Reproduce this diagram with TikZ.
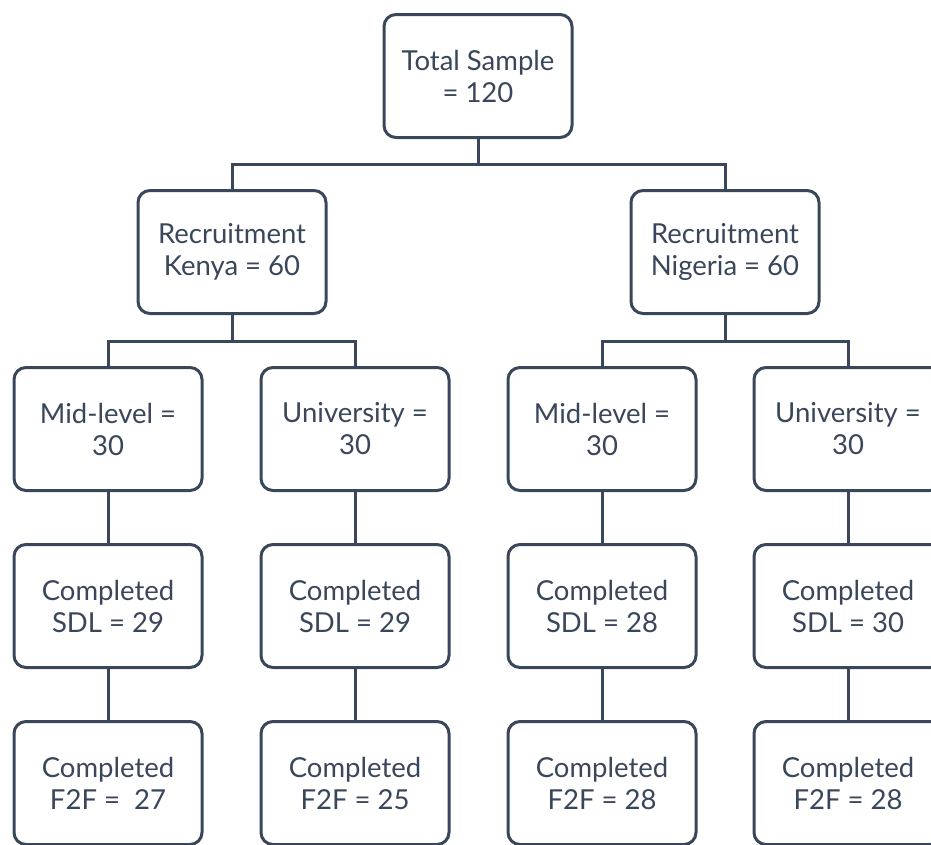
\documentclass[tikz,border=0pt]{standalone}
\usepackage{fontspec}
\setmainfont{Lato}
\definecolor{ink}{HTML}{3A4659}
\begin{document}
\begin{tikzpicture}[x=1pt,y=-1pt,
  box/.style={draw=ink, line width=3pt, rounded corners=12pt, minimum width=188pt, minimum height=123pt, align=center, text=ink, font=\fontsize{27.5}{32}\selectfont, fill=white},
  link/.style={draw=ink, line width=3pt}]
\useasboundingbox (0,0) rectangle (931,844);
\clip (0,0) rectangle (931,844);
\node[box] (top) at (478,76) {Total Sample\\= 120};
\node[box] (rk) at (232,252) {Recruitment\\Kenya = 60};
\node[box] (rn) at (725,252) {Recruitment\\Nigeria = 60};
\node[box] (m1) at (108,429) {Mid-level =\\30};
\node[box] (u1) at (355,429) {University =\\30};
\node[box] (m2) at (602,429) {Mid-level =\\30};
\node[box] (u2) at (848,429) {University =\\30};
\node[box] (s1) at (108,606) {Completed\\SDL = 29};
\node[box] (s2) at (355,606) {Completed\\SDL = 29};
\node[box] (s3) at (602,606) {Completed\\SDL = 28};
\node[box] (s4) at (848,606) {Completed\\SDL = 30};
\node[box] (f1) at (108,783) {Completed\\F2F =\ \ 27};
\node[box] (f2) at (355,783) {Completed\\F2F = 25};
\node[box] (f3) at (602,783) {Completed\\F2F = 28};
\node[box] (f4) at (848,783) {Completed\\F2F = 28};
\coordinate (j0) at (478,164);
\coordinate (jk) at (232,341);
\coordinate (jn) at (725,341);
\draw[link] (top.south) -- (j0);
\draw[link] (rk.north) |- (j0) -| (rn.north);
\draw[link] (rk.south) -- (jk);
\draw[link] (m1.north) |- (jk) -| (u1.north);
\draw[link] (rn.south) -- (jn);
\draw[link] (m2.north) |- (jn) -| (u2.north);
\foreach \a/\b/\c in {m1/s1/f1, u1/s2/f2, m2/s3/f3, u2/s4/f4}{
  \draw[link] (\a.south) -- (\b.north);
  \draw[link] (\b.south) -- (\c.north);
}
\end{tikzpicture}
\end{document}
